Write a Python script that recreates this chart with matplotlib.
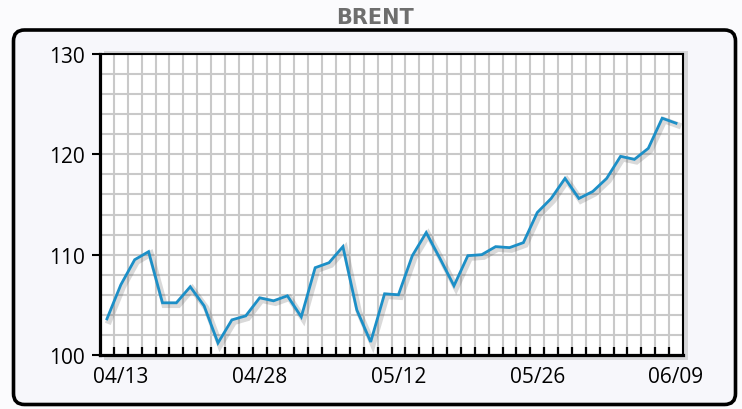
import matplotlib
matplotlib.use("Agg")
import matplotlib.pyplot as plt
import matplotlib.patheffects as pe
from matplotlib.patches import FancyBboxPatch, Rectangle
from matplotlib.ticker import FixedLocator, MultipleLocator
import numpy as np

# ---- data ----
title = "BRENT"
values = [103.6, 107.0, 109.5, 110.3, 105.2, 105.2, 106.8, 104.9, 101.2, 103.5,
          103.9, 105.7, 105.4, 105.9, 103.8, 108.7, 109.2, 110.8, 104.5, 101.3,
          106.1, 106.0, 109.9, 112.2, 109.6, 106.9, 109.9, 110.0, 110.8, 110.7,
          111.2, 114.2, 115.6, 117.6, 115.6, 116.3, 117.6, 119.8, 119.5, 120.6,
          123.6, 123.1]
tick_index = [1, 11, 21, 31, 41]
tick_labels = ["04/13", "04/28", "05/12", "05/26", "06/09"]
y_ticks = [100, 110, 120, 130]

W, H = 742, 410
fig = plt.figure(figsize=(W / 100, H / 100), dpi=100)
fig.patch.set_facecolor("#fbfbfd")

def px(x0, y0_top, x1, y1_top):
    """figure-fraction rect from pixel box (top-origin)"""
    return [x0 / W, 1 - y1_top / H, (x1 - x0) / W, (y1_top - y0_top) / H]

# outer rounded box
box = FancyBboxPatch((13.5, H - 405.5), 722, 374.5,
                     boxstyle="round,pad=0,rounding_size=11",
                     facecolor="#f7f7fb", edgecolor="black", linewidth=2.6,
                     transform=None, zorder=-3)
fig.patches.append(box)

# axes shadow
shadow = Rectangle((104 / W, 1 - 361 / H), (688 - 104) / W, (361 - 52) / H,
                   transform=fig.transFigure, facecolor="#d6d6d8",
                   edgecolor="none", zorder=-2)
fig.patches.append(shadow)

fig.text(375 / W, 1 - 17.5 / H, title, ha="center", va="center",
         fontsize=15, fontweight="bold", color="#6e6e6e",
         family="DejaVu Sans")

ax = fig.add_axes(px(100, 55, 683, 356))
ax.set_facecolor("white")
x = np.arange(len(values))
ax.set_xlim(-0.5, len(values) - 0.5)
ax.set_ylim(100, 130)

# grid
ax.xaxis.set_minor_locator(FixedLocator(np.arange(len(values) - 1) + 0.5))
ax.yaxis.set_minor_locator(MultipleLocator(2))
ax.xaxis.grid(True, which="minor", color="#c9c9c9", linewidth=1.5)
ax.xaxis.grid(False, which="major")
ax.yaxis.grid(True, which="both", color="#c9c9c9", linewidth=1.5)
ax.set_axisbelow(True)

ax.plot(x, values, color="#1c8fc7", linewidth=2.0, zorder=3,
        solid_joinstyle="miter",
        path_effects=[pe.SimpleLineShadow(offset=(1.5, -1.5), shadow_color="#555555",
                                          alpha=0.22, linewidth=4.5),
                      pe.Normal()])

ax.set_xticks(tick_index)
ax.set_xticklabels(tick_labels)
ax.set_yticks(y_ticks)
ax.set_yticklabels([str(v) for v in y_ticks])

ax.tick_params(axis="x", which="major", length=0, pad=8, labelsize=15)
ax.tick_params(axis="x", which="minor", direction="in", length=5.5, width=1.6,
               color="black", bottom=True)
ax.tick_params(axis="y", which="major", direction="out", length=6, width=1.5,
               color="black", pad=5, labelsize=15)
ax.tick_params(axis="y", which="minor", length=0)
for lab in ax.get_xticklabels() + ax.get_yticklabels():
    lab.set_family(["Open Sans", "DejaVu Sans"])
    lab.set_color("black")

for s in ["left", "bottom"]:
    ax.spines[s].set_linewidth(2.3)
for s in ["top", "right"]:
    ax.spines[s].set_linewidth(1.5)
for s in ax.spines.values():
    s.set_color("black")
    s.set_zorder(4)

fig.savefig("out.png", dpi=100, facecolor=fig.get_facecolor())
